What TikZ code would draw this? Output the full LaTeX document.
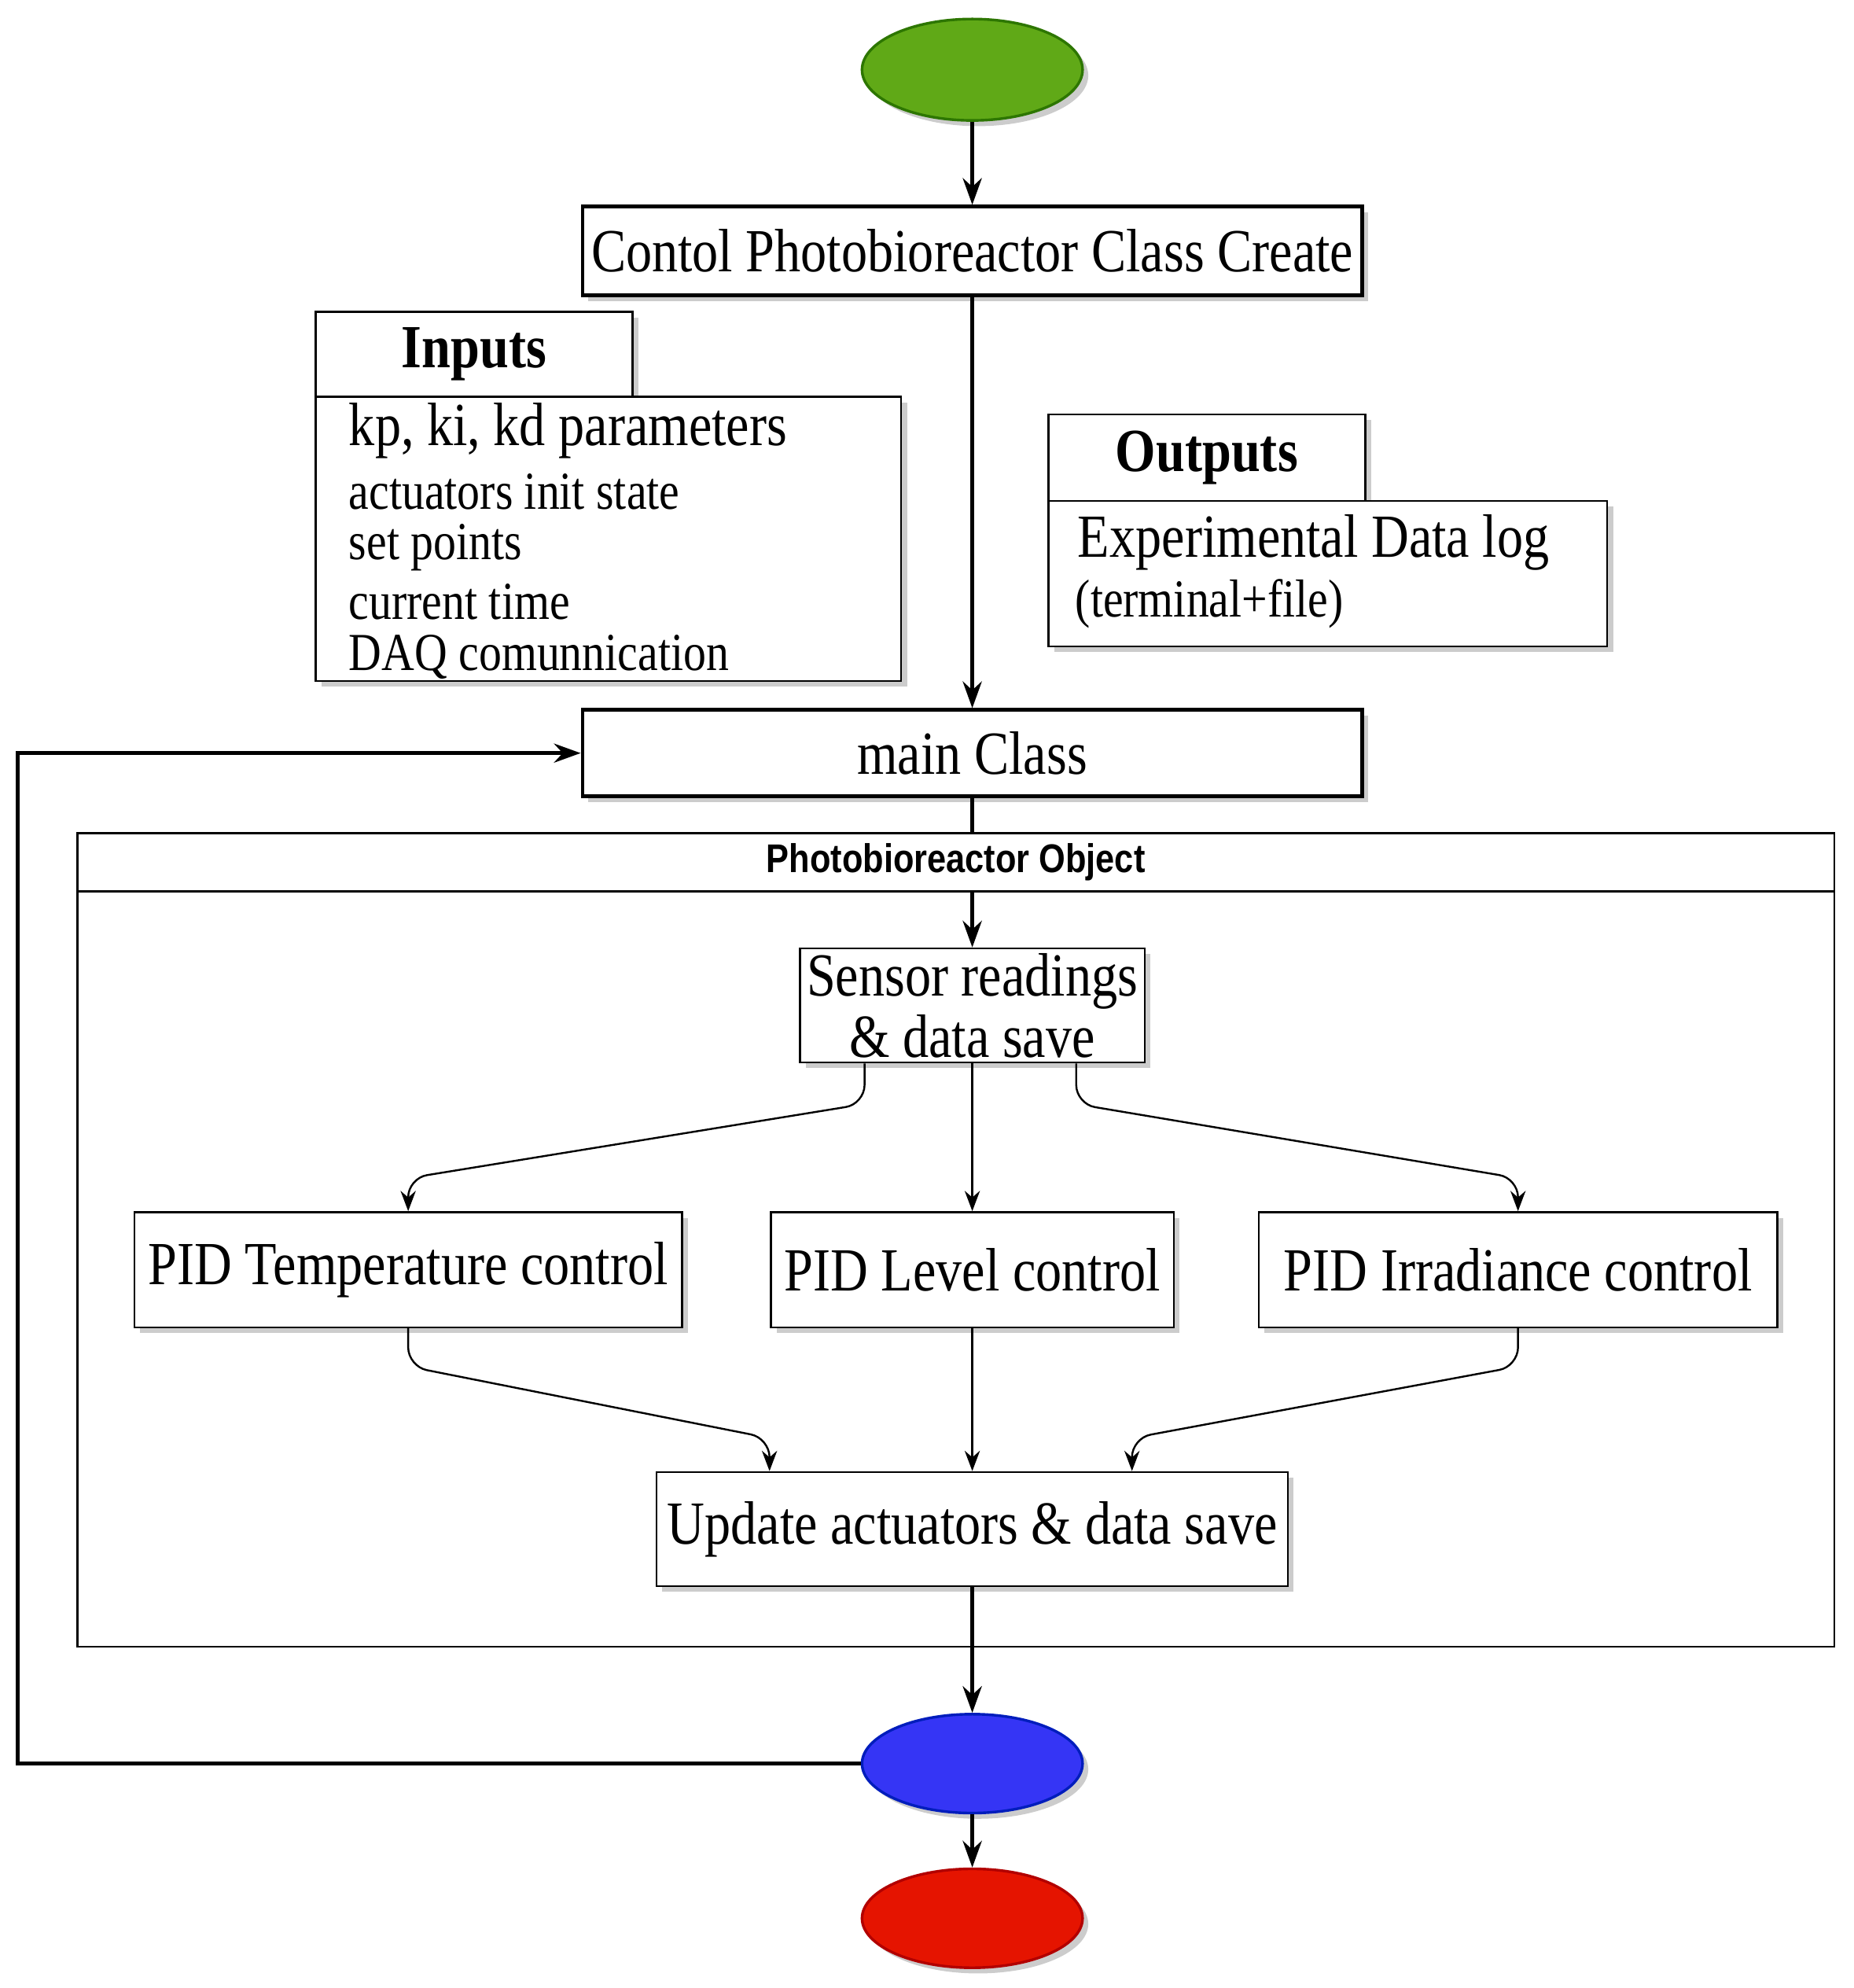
\documentclass[tikz,border=0pt]{standalone}
\usepackage{fontspec}
\setmainfont{Liberation Serif}[FakeStretch=0.85]
\newfontfamily\entete{Liberation Sans}[FakeStretch=0.85]
\usetikzlibrary{shapes.geometric,arrows.meta,shadows}
\definecolor{vert}{HTML}{60A917}
\definecolor{vertfonce}{HTML}{2D7600}
\definecolor{bleu}{HTML}{3535F5}
\definecolor{bleufonce}{HTML}{001DBC}
\definecolor{rouge}{HTML}{E51400}
\definecolor{rougefonce}{HTML}{B20000}
\begin{document}
\begin{tikzpicture}[x=0.02cm,y=-0.02cm]
		\tikzstyle{ombre}=[drop shadow={shadow xshift=0.09cm, shadow yshift=-0.09cm, opacity=0.2, fill=black}]
		\tikzstyle{boite}=[draw, line width=0.85pt, fill=white, inner sep=0pt, align=center, font=\fontsize{27.5}{28.5}\selectfont, ombre]
		\tikzstyle{boite_epaisse}=[boite, line width=1.7pt]
		\tikzstyle{onglet}=[boite, minimum width=5cm, font=\bfseries\fontsize{27.5}{28.5}\selectfont]
		\tikzstyle{ligne}=[anchor=west, inner sep=0pt, font=\fontsize{24}{26}\selectfont]
		\tikzstyle{ligne_grande}=[ligne, font=\fontsize{27.5}{28.5}\selectfont]
		\tikzstyle{rond}=[ellipse, minimum width=3.48cm, minimum height=1.56cm, line width=1.2pt, ombre]
		\tikzstyle{fleche}=[-{Stealth[length=0.32cm, width=0.24cm]}, line width=0.85pt, rounded corners=0.3cm]
		\tikzstyle{fleche_epaisse}=[-{Stealth[length=0.42cm, width=0.3cm]}, line width=1.7pt]
		\useasboundingbox (0,0) rectangle (1462,1568);
		% debut
		\node[rond, fill=vert, draw=vertfonce, minimum height=1.6cm] (debut) at (767,55) {};
		\node[boite_epaisse, minimum width=12.3cm, minimum height=1.4cm] (creation) at (767,198) {Contol Photobioreactor Class Create};
		% entrees
		\node[onglet, minimum height=1.34cm] (entrees) at (374,279.5) {Inputs};
		\node[boite, minimum width=9.24cm, minimum height=4.48cm] (entrees_corps) at (480,425) {};
		\node[ligne_grande] (in1) at (275,340) {kp, ki, kd parameters};
		\node[ligne] (in2) at (275,388) {actuators init state};
		\node[ligne] (in3) at (275,432) {set points};
		\node[ligne] (in4) at (275,475) {current time};
		\node[ligne] (in5) at (275,518) {DAQ comunnication};
		% sorties
		\node[onglet, minimum height=1.36cm] (sorties) at (952,361) {Outputs};
		\node[boite, minimum width=8.82cm, minimum height=2.3cm] (sorties_corps) at (1047.5,452.5) {};
		\node[ligne_grande] (out1) at (850,428) {Experimental Data log};
		\node[ligne] (out2) at (848,476) {(terminal+file)};
		\node[boite_epaisse, minimum width=12.3cm, minimum height=1.36cm] (principal) at (767,594) {main Class};
		% objet
		\node[draw, line width=0.85pt, minimum width=27.72cm, minimum height=12.84cm] (objet) at (754,978) {};
		\node[draw, line width=0.85pt, minimum width=27.72cm, minimum height=0.92cm, inner sep=0pt, font=\entete\bfseries\fontsize{18}{20}\selectfont] (objet_titre) at (754,680) {Photobioreactor Object};
		\node[boite, minimum width=5.44cm, minimum height=1.8cm] (capteurs) at (767,793) {Sensor readings\\[-1pt] \& data save};
		\node[boite, minimum width=8.64cm, minimum height=1.82cm] (temperature) at (322,1001.5) {PID Temperature control}; % gauche
		\node[boite, minimum width=6.36cm, minimum height=1.82cm] (niveau) at (767,1001.5) {PID Level control}; % milieu
		\node[boite, minimum width=8.18cm, minimum height=1.82cm] (irradiance) at (1197.5,1001.5) {PID Irradiance control}; % droite
		\node[boite, minimum width=9.96cm, minimum height=1.8cm] (actionneurs) at (767,1206) {Update actuators \& data save};
		% fin
		\node[rond, fill=bleu, draw=bleufonce] (boucle) at (767,1391) {};
		\node[rond, fill=rouge, draw=rougefonce] (fin) at (767,1513) {};
		\coordinate (retour) at (14,1391);
		% liaisons
		\draw[fleche_epaisse] (debut) -- (creation);
		\draw[fleche_epaisse] (creation) -- (principal);
		\draw[line width=1.7pt] (principal.south) -- (principal.south |- objet_titre.north);
		\draw[fleche_epaisse] (principal.south |- objet_titre.south) -- (capteurs.north);
		\draw[fleche] ([xshift=-1.7cm]capteurs.south) -- ++(0,32) -- ([yshift=0.52cm]temperature.north) -- (temperature.north);
		\draw[fleche] (capteurs.south) -- (niveau.north);
		\draw[fleche] ([xshift=1.64cm]capteurs.south) -- ++(0,32) -- ([yshift=0.52cm]irradiance.north) -- (irradiance.north);
		\draw[fleche] (temperature.south) -- ++(0,30) -- ([xshift=-3.2cm, yshift=0.52cm]actionneurs.north) -- ([xshift=-3.2cm]actionneurs.north);
		\draw[fleche] (niveau.south) -- (actionneurs.north);
		\draw[fleche] (irradiance.south) -- ++(0,30) -- ([xshift=2.52cm, yshift=0.52cm]actionneurs.north) -- ([xshift=2.52cm]actionneurs.north);
		\draw[fleche_epaisse] (actionneurs) -- (boucle);
		\draw[fleche_epaisse] (boucle) -- (fin);
		\draw[fleche_epaisse] (boucle.west) -- (retour) |- (principal.west);
	\end{tikzpicture}
\end{document}
